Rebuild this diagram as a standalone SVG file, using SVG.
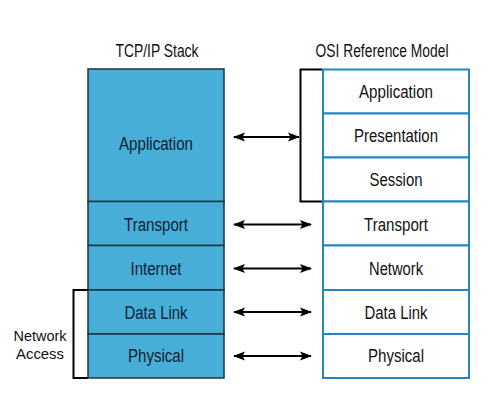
<svg xmlns="http://www.w3.org/2000/svg" width="500" height="403" viewBox="0 0 500 403">
<style>
text{font-family:"Liberation Sans",Arial,sans-serif;font-size:17.5px;text-anchor:middle}
.tcp rect{fill:#47aed8;stroke:#1c3342;stroke-width:1.5}
.tcp text{fill:#0d2233}
.osi rect{fill:#ffffff;stroke:#1f88c4;stroke-width:2}
.osi text{fill:#111111}
.title{fill:#111111}
.side{font-size:15.5px}
.conn path{fill:none;stroke:#000000;stroke-width:2}
.conn path.arrow{marker-start:url(#ah);marker-end:url(#ah)}
</style>
<defs>
<marker id="ah" viewBox="0 0 12 10" refX="11" refY="5" markerWidth="12" markerHeight="10" markerUnits="userSpaceOnUse" orient="auto-start-reverse">
<path d="M0,0.5 L12,5 L0,9.5 L2.5,5 z" fill="#000000"/>
</marker>
</defs>
<rect width="500" height="403" fill="#ffffff"/>
<text class="title" x="157" y="56.5" textLength="83" lengthAdjust="spacingAndGlyphs">TCP/IP Stack</text>
<text class="title" x="382" y="56.5" textLength="133" lengthAdjust="spacingAndGlyphs">OSI Reference Model</text>

<g id="tcp-application" class="tcp"><rect x="88" y="69" width="136" height="132.5"/><text x="156" y="150" textLength="74" lengthAdjust="spacingAndGlyphs">Application</text></g>
<g id="tcp-transport" class="tcp"><rect x="88" y="201.5" width="136" height="44"/><text x="156" y="231" textLength="64" lengthAdjust="spacingAndGlyphs">Transport</text></g>
<g id="tcp-internet" class="tcp"><rect x="88" y="245.5" width="136" height="44.5"/><text x="156" y="274.5" textLength="51" lengthAdjust="spacingAndGlyphs">Internet</text></g>
<g id="tcp-datalink" class="tcp"><rect x="88" y="290" width="136" height="44"/><text x="156" y="318.5" textLength="63" lengthAdjust="spacingAndGlyphs">Data Link</text></g>
<g id="tcp-physical" class="tcp"><rect x="88" y="334" width="136" height="44"/><text x="156" y="362" textLength="56" lengthAdjust="spacingAndGlyphs">Physical</text></g>

<g id="osi-application" class="osi"><rect x="323" y="69.5" width="146" height="44"/><text x="396" y="97.5" textLength="74" lengthAdjust="spacingAndGlyphs">Application</text></g>
<g id="osi-presentation" class="osi"><rect x="323" y="113.5" width="146" height="44"/><text x="396" y="141.5" textLength="84" lengthAdjust="spacingAndGlyphs">Presentation</text></g>
<g id="osi-session" class="osi"><rect x="323" y="157.5" width="146" height="44"/><text x="396" y="185.5" textLength="53" lengthAdjust="spacingAndGlyphs">Session</text></g>
<g id="osi-transport" class="osi"><rect x="323" y="201.5" width="146" height="44"/><text x="396" y="231" textLength="64" lengthAdjust="spacingAndGlyphs">Transport</text></g>
<g id="osi-network" class="osi"><rect x="323" y="245.5" width="146" height="44.5"/><text x="396" y="274.5" textLength="54" lengthAdjust="spacingAndGlyphs">Network</text></g>
<g id="osi-datalink" class="osi"><rect x="323" y="290" width="146" height="44"/><text x="396" y="318.5" textLength="63" lengthAdjust="spacingAndGlyphs">Data Link</text></g>
<g id="osi-physical" class="osi"><rect x="323" y="334" width="146" height="44"/><text x="396" y="362" textLength="56" lengthAdjust="spacingAndGlyphs">Physical</text></g>

<g id="network-access-label">
<text class="title side" x="40" y="340.5" textLength="53" lengthAdjust="spacingAndGlyphs">Network</text>
<text class="title side" x="40" y="358.5" textLength="48" lengthAdjust="spacingAndGlyphs">Access</text>
</g>

<g id="connectors" class="conn">
<path d="M322,69.5 H300.5 V201.5 H322"/>
<path d="M88,290 H73.5 V378 H88"/>
<path class="arrow" d="M234,137 H299"/>
<path class="arrow" d="M234,224.5 H311"/>
<path class="arrow" d="M234,268.5 H311"/>
<path class="arrow" d="M234,312 H311"/>
<path class="arrow" d="M234,356 H311"/>
</g>
</svg>
